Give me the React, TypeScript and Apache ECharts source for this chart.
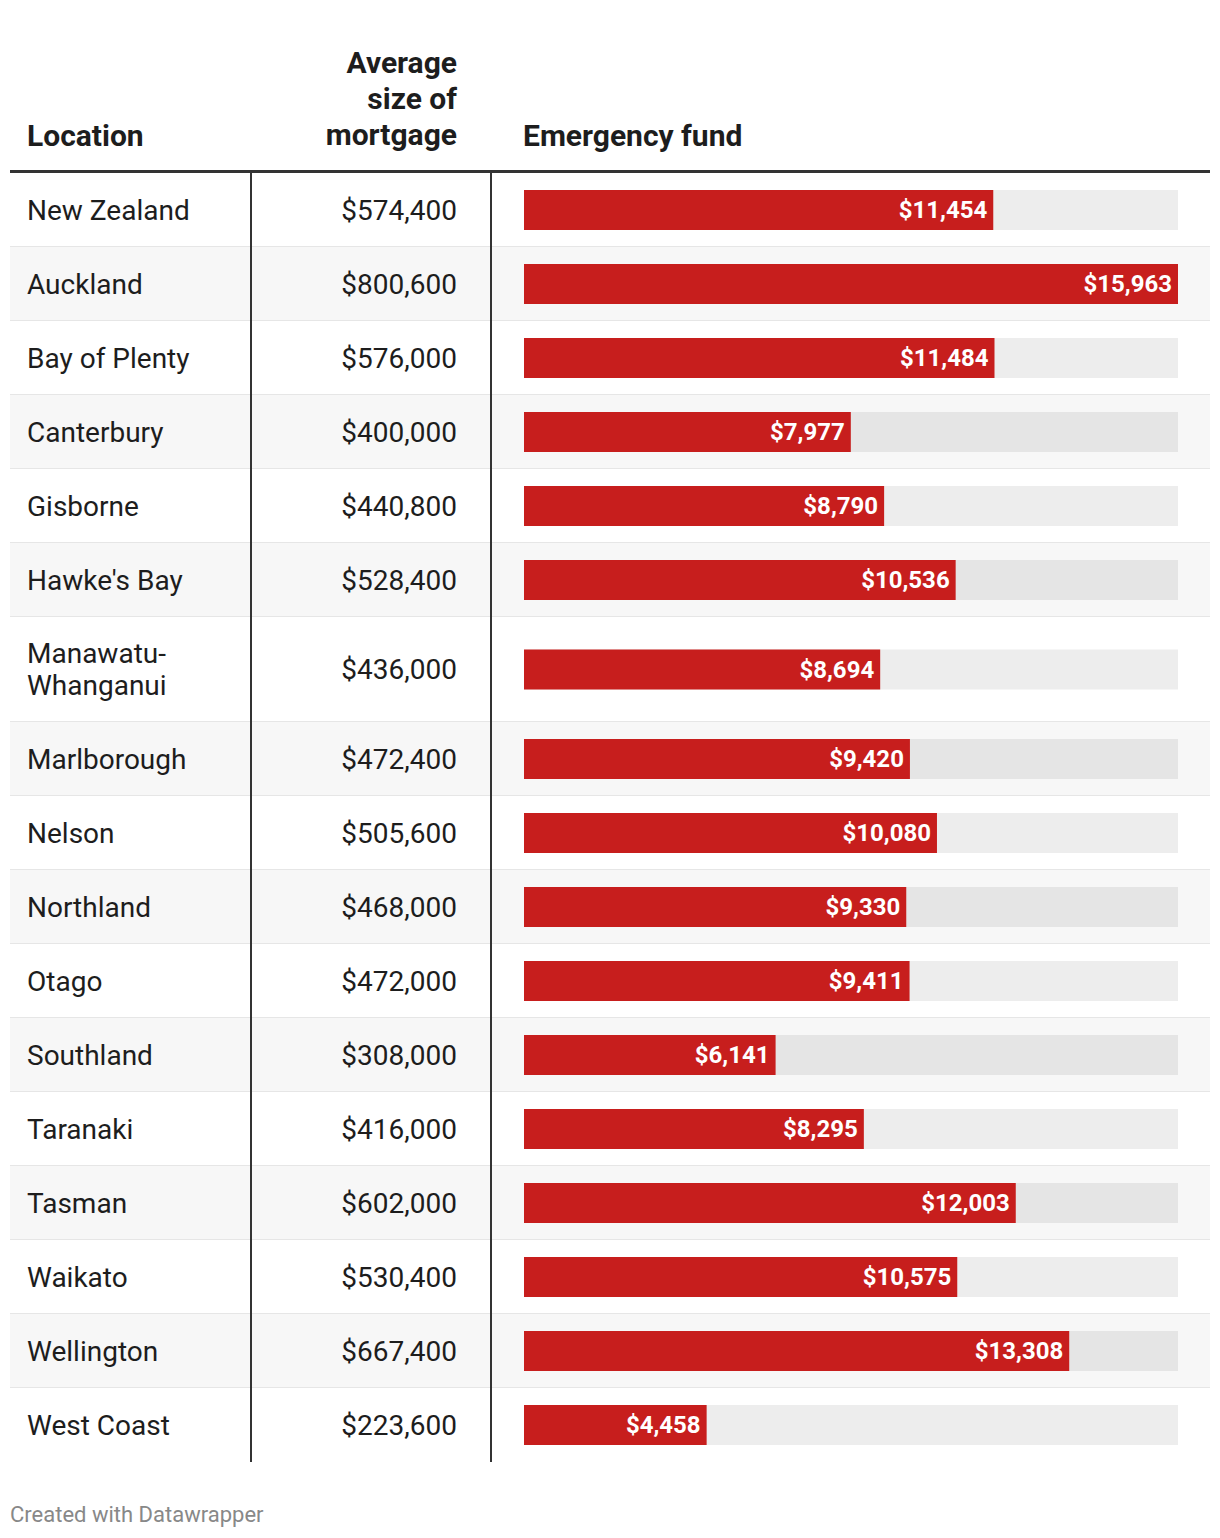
import React, { useEffect, useRef } from "react";
import * as echarts from "echarts";

const headers = ["Location", "Average\nsize of\nmortgage", "Emergency fund"];
const locations = [
  "New Zealand", "Auckland", "Bay of Plenty", "Canterbury", "Gisborne", "Hawke's Bay",
  "Manawatu-\nWhanganui", "Marlborough", "Nelson", "Northland", "Otago", "Southland",
  "Taranaki", "Tasman", "Waikato", "Wellington", "West Coast",
];
const mortgages = [
  574400, 800600, 576000, 400000, 440800, 528400, 436000, 472400, 505600,
  468000, 472000, 308000, 416000, 602000, 530400, 667400, 223600,
];
const emergencyFund = [
  11454, 15963, 11484, 7977, 8790, 10536, 8694, 9420, 10080,
  9330, 9411, 6141, 8295, 12003, 10575, 13308, 4458,
];
const footer = "Created with Datawrapper";

const FONT = "Roboto, 'Noto Sans', sans-serif";
const TEXT = "#1d1d1d";
const RED = "#c71e1d";

const fmt = (n: number) => "$" + n.toLocaleString("en-US");

export default function App() {
  const ref = useRef<HTMLDivElement>(null);
  useEffect(() => {
    document.body.style.margin = "0";
    if (!ref.current) return;
    const chart = echarts.init(ref.current, undefined, { renderer: "svg" });

    const tableLeft = 10;
    const tableRight = 1210;
    const tableTop = 173;
    const col1 = 251;
    const col2 = 491;
    const barLeft = 524;
    const barRight = 1178;
    const baseRow = 74;
    const lineStep = 31;
    const heights = locations.map((l) => baseRow + (l.split("\n").length - 1) * lineStep);
    const tops: number[] = [];
    let acc = 0;
    heights.forEach((h) => { tops.push(acc); acc += h; });
    const totalH = acc;
    const maxV = Math.max(...emergencyFund);

    const data = emergencyFund.map((v, i) => [v, tops[i], heights[i], i, mortgages[i]]);

    chart.setOption({
      animation: false,
      grid: { left: barLeft, width: barRight - barLeft, top: tableTop, height: totalH },
      xAxis: { type: "value", min: 0, max: maxV, show: false },
      yAxis: { type: "value", min: 0, max: totalH, inverse: true, show: false },
      graphic: [
        { type: "text", x: 27, y: 135, z: 5, style: { text: headers[0], font: `bold 30px ${FONT}`, fill: TEXT, verticalAlign: "middle" } },
        {
          type: "text", x: 457, y: 98, z: 5,
          style: { text: headers[1], font: `bold 30px ${FONT}`, fill: TEXT, align: "right", verticalAlign: "middle", lineHeight: 36 },
        },
        { type: "text", x: 523, y: 135, z: 5, style: { text: headers[2], font: `bold 30px ${FONT}`, fill: TEXT, verticalAlign: "middle" } },
        { type: "rect", z: 10, shape: { x: tableLeft, y: tableTop - 3, width: tableRight - tableLeft, height: 3 }, style: { fill: "#333333" } },
        { type: "rect", z: 10, shape: { x: col1 - 1, y: tableTop, width: 2, height: totalH }, style: { fill: "#333333" } },
        { type: "rect", z: 10, shape: { x: col2 - 1, y: tableTop, width: 2, height: totalH }, style: { fill: "#333333" } },
        { type: "text", x: 10, y: 1514, z: 5, style: { text: footer, font: `22px ${FONT}`, fill: "#888888", verticalAlign: "middle" } },
      ],
      series: [
        {
          type: "custom",
          clip: false,
          data,
          encode: { x: 0, y: 1 },
          renderItem: (params: any, api: any) => {
            const v = api.value(0);
            const top = api.value(1);
            const h = api.value(2);
            const idx = api.value(3);
            const mort = api.value(4);
            const yTop = api.coord([0, top])[1];
            const yBot = api.coord([0, top + h])[1];
            const yc = (yTop + yBot) / 2;
            const x0 = api.coord([0, top])[0];
            const xv = api.coord([v, top])[0];
            const xm = api.coord([maxV, top])[0];
            const barH = 40;
            const children: any[] = [];
            children.push({
              type: "rect",
              shape: { x: tableLeft, y: yTop, width: tableRight - tableLeft, height: yBot - yTop },
              style: { fill: idx % 2 === 1 ? "#f7f7f7" : "#ffffff" },
            });
            if (idx < locations.length - 1) {
              children.push({
                type: "rect",
                shape: { x: tableLeft, y: yBot - 1, width: tableRight - tableLeft, height: 2 },
                style: { fill: "#e6e6e6" },
              });
            }
            children.push({
              type: "text",
              style: { text: locations[idx], x: 27, y: yc, font: `28px ${FONT}`, fill: TEXT, verticalAlign: "middle", lineHeight: 32 },
            });
            children.push({
              type: "text",
              style: { text: fmt(mort), x: 457, y: yc, font: `28px ${FONT}`, fill: TEXT, align: "right", verticalAlign: "middle" },
            });
            children.push({
              type: "rect",
              shape: { x: x0, y: yc - barH / 2, width: xm - x0, height: barH },
              style: { fill: "rgba(0,0,0,0.07)" },
            });
            children.push({
              type: "rect",
              shape: { x: x0, y: yc - barH / 2, width: xv - x0, height: barH },
              style: { fill: RED },
            });
            children.push({
              type: "text",
              style: { text: fmt(v), x: xv - 6, y: yc, font: `bold 24px ${FONT}`, fill: "#ffffff", align: "right", verticalAlign: "middle" },
            });
            return { type: "group", children };
          },
        },
      ],
    });
    return () => chart.dispose();
  }, []);
  return <div ref={ref} style={{ width: 1220, height: 1538 }} />;
}
